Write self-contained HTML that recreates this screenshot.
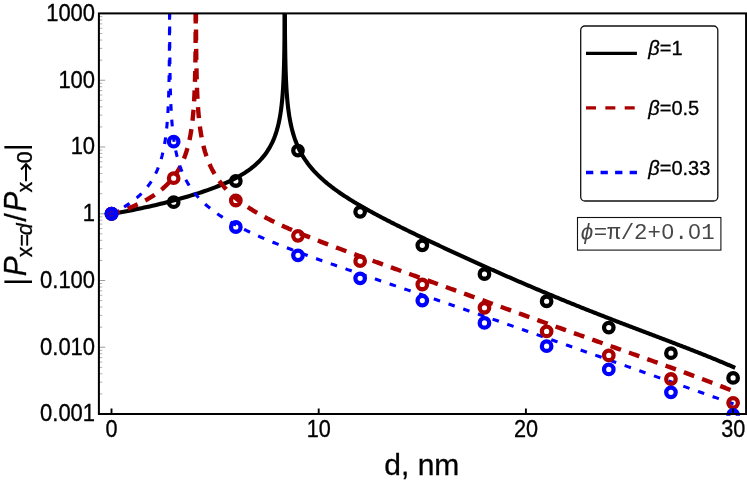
<!DOCTYPE html>
<html><head><meta charset="utf-8"><title>plot</title>
<style>html,body{margin:0;padding:0;background:#fff}svg{display:block;will-change:transform}text{font-family:"Liberation Sans",sans-serif;fill:#000;stroke:#000;stroke-width:0.3px}.m{font-family:"Liberation Mono",monospace}</style></head><body>
<svg width="747" height="482" viewBox="0 0 747 482">
<rect width="747" height="482" fill="#fff"/>
<defs><clipPath id="c"><rect x="98.9" y="13.4" width="647.2" height="402.30"/></clipPath></defs>
<path d="M98.9 414.00h6.3M98.9 347.25h6.3M98.9 280.50h6.3M98.9 213.75h6.3M98.9 147.00h6.3M98.9 80.25h6.3M98.9 13.50h6.3" stroke="#8c8c8c" stroke-width="0.85" fill="none"/>
<path d="M98.9 393.91h3.4M98.9 382.15h3.4M98.9 373.81h3.4M98.9 367.34h3.4M98.9 362.06h3.4M98.9 357.59h3.4M98.9 353.72h3.4M98.9 350.30h3.4M98.9 327.16h3.4M98.9 315.40h3.4M98.9 307.06h3.4M98.9 300.59h3.4M98.9 295.31h3.4M98.9 290.84h3.4M98.9 286.97h3.4M98.9 283.55h3.4M98.9 260.41h3.4M98.9 248.65h3.4M98.9 240.31h3.4M98.9 233.84h3.4M98.9 228.56h3.4M98.9 224.09h3.4M98.9 220.22h3.4M98.9 216.80h3.4M98.9 193.66h3.4M98.9 181.90h3.4M98.9 173.56h3.4M98.9 167.09h3.4M98.9 161.81h3.4M98.9 157.34h3.4M98.9 153.47h3.4M98.9 150.05h3.4M98.9 126.91h3.4M98.9 115.15h3.4M98.9 106.81h3.4M98.9 100.34h3.4M98.9 95.06h3.4M98.9 90.59h3.4M98.9 86.72h3.4M98.9 83.30h3.4M98.9 60.16h3.4M98.9 48.40h3.4M98.9 40.06h3.4M98.9 33.59h3.4M98.9 28.31h3.4M98.9 23.84h3.4M98.9 19.97h3.4M98.9 16.55h3.4" stroke="#9c9c9c" stroke-width="0.8" fill="none"/>
<g clip-path="url(#c)" fill="none" stroke-linejoin="round">
<path d="M111.50,213.75 L114.23,213.32 L116.95,212.88 L119.68,212.42 L122.40,211.94 L125.13,211.45 L127.85,210.94 L130.58,210.42 L133.31,209.89 L136.03,209.34 L138.76,208.78 L141.48,208.21 L144.21,207.62 L146.94,207.02 L149.66,206.41 L152.39,205.78 L155.11,205.15 L157.84,204.50 L160.56,203.83 L163.29,203.16 L166.02,202.47 L168.74,201.77 L171.47,201.06 L174.19,200.33 L176.92,199.59 L179.65,198.84 L182.37,198.07 L185.10,197.28 L187.82,196.48 L190.55,195.66 L193.27,194.82 L196.00,193.97 L198.73,193.09 L201.45,192.20 L204.18,191.28 L206.90,190.33 L209.63,189.36 L212.36,188.36 L215.08,187.33 L217.81,186.26 L220.53,185.15 L223.26,184.01 L225.98,182.82 L228.71,181.57 L231.44,180.27 L234.16,178.91 L236.89,177.47 L239.61,175.96 L242.34,174.35 L245.07,172.64 L247.79,170.81 L250.52,168.84 L253.24,166.70 L255.97,164.36 L258.69,161.79 L261.42,158.92 L264.15,155.68 L266.87,151.96 L269.60,147.60 L272.32,142.35 L272.32,142.35 L273.20,140.40 L274.01,138.45 L274.77,136.49 L275.48,134.53 L276.13,132.57 L276.74,130.60 L277.30,128.63 L277.83,126.66 L278.32,124.68 L278.77,122.70 L279.19,120.71 L279.59,118.73 L279.95,116.74 L280.29,114.75 L280.60,112.76 L280.90,110.76 L281.17,108.76 L281.42,106.76 L281.66,104.76 L281.87,102.76 L282.08,100.76 L282.27,98.75 L282.44,96.74 L282.61,94.74 L282.76,92.73 L282.90,90.72 L283.03,88.71 L283.15,86.69 L283.26,84.68 L283.37,82.67 L283.47,80.65 L283.56,78.64 L283.64,76.62 L283.72,74.61 L283.79,72.59 L283.86,70.57 L283.92,68.55 L283.98,66.54 L284.04,64.52 L284.09,62.50 L284.14,60.48 L284.18,58.46 L284.22,56.44 L284.26,54.42 L284.29,52.40 L284.33,50.38 L284.36,48.35 L284.38,46.33 L284.41,44.31 L284.43,42.29 L284.46,40.27 L284.48,38.24 L284.50,36.22 L284.52,34.20 L284.53,32.18 L284.55,30.15 L284.56,28.13 L284.58,26.11 L284.59,24.08 L284.60,22.06 L284.61,20.04 L284.62,18.01 L284.63,15.99 L284.64,13.97 L284.65,11.94 L284.66,9.92 L284.66,7.90 L284.67,5.87 L284.68,3.85 L284.68,1.82 L284.69,-0.20 L284.69,-2.22 L284.70,-4.25 L284.70,-6.27 L284.70,-8.30 L284.71,-10.32 L284.71,-12.34 L284.71,-14.37 L284.72,-16.39 L284.72,-18.42 L284.72,-20.44 L284.72,-22.47 L284.73,-24.49 L284.73,-26.51 L284.73,-28.54 L284.73,-30.56 L284.73,-32.59" stroke="#000" stroke-width="4.1"/>
<path d="M284.78,-32.58 L284.78,-30.56 L284.78,-28.53 L284.78,-26.51 L284.78,-24.48 L284.79,-22.46 L284.79,-20.43 L284.79,-18.41 L284.79,-16.38 L284.80,-14.36 L284.80,-12.34 L284.80,-10.31 L284.81,-8.29 L284.81,-6.26 L284.82,-4.24 L284.82,-2.21 L284.83,-0.19 L284.83,1.84 L284.84,3.87 L284.84,5.89 L284.85,7.92 L284.86,9.94 L284.86,11.97 L284.87,13.99 L284.88,16.02 L284.89,18.04 L284.90,20.07 L284.91,22.09 L284.92,24.12 L284.93,26.15 L284.95,28.17 L284.96,30.20 L284.98,32.22 L285.00,34.25 L285.01,36.28 L285.03,38.30 L285.05,40.33 L285.08,42.36 L285.10,44.38 L285.13,46.41 L285.16,48.44 L285.19,50.47 L285.22,52.50 L285.25,54.52 L285.29,56.55 L285.33,58.58 L285.38,60.61 L285.42,62.64 L285.47,64.67 L285.53,66.70 L285.59,68.73 L285.65,70.76 L285.72,72.79 L285.79,74.83 L285.87,76.86 L285.95,78.89 L286.05,80.93 L286.14,82.96 L286.25,85.00 L286.36,87.04 L286.48,89.07 L286.61,91.11 L286.75,93.15 L286.91,95.19 L287.07,97.24 L287.25,99.28 L287.43,101.32 L287.64,103.37 L287.86,105.42 L288.09,107.47 L288.34,109.52 L288.62,111.58 L288.91,113.64 L289.22,115.70 L289.56,117.76 L289.93,119.82 L290.32,121.89 L290.74,123.97 L291.19,126.04 L291.68,128.12 L292.21,130.21 L292.77,132.30 L293.38,134.40 L294.04,136.50 L294.74,138.61 L295.50,140.73 L296.31,142.85 L297.19,144.98 L297.19,144.98 L298.29,147.46 L299.38,149.76 L300.48,151.91 L301.58,153.92 L302.68,155.82 L303.77,157.61 L304.87,159.31 L305.97,160.93 L307.07,162.48 L308.16,163.97 L309.26,165.39 L310.36,166.76 L311.46,168.08 L312.56,169.36 L313.65,170.60 L314.75,171.79 L315.85,172.95 L316.95,174.08 L318.04,175.18 L319.14,176.25 L320.24,177.29 L321.34,178.31 L322.44,179.31 L323.53,180.28 L324.63,181.24 L325.73,182.17 L326.83,183.09 L327.92,183.98 L329.02,184.87 L330.12,185.73 L331.22,186.59 L332.31,187.43 L333.41,188.25 L334.51,189.06 L335.61,189.87 L336.71,190.66 L337.80,191.44 L338.90,192.21 L340.00,192.97 L341.10,193.72 L342.19,194.46 L343.29,195.19 L344.39,195.92 L345.49,196.63 L346.58,197.34 L347.68,198.05 L348.78,198.74 L349.88,199.43 L350.98,200.12 L352.07,200.79 L353.17,201.46 L354.27,202.13 L355.37,202.79 L356.46,203.44 L357.56,204.10 L358.66,204.74 L359.76,205.38 L360.85,206.02 L361.95,206.65 L363.05,207.28 L364.15,207.90 L365.25,208.52 L366.34,209.14 L367.44,209.75 L368.54,210.36 L369.64,210.97 L370.73,211.57 L371.83,212.17 L372.93,212.77 L374.03,213.37 L375.12,213.96 L376.22,214.55 L377.32,215.13 L378.42,215.72 L379.52,216.30 L380.61,216.88 L381.71,217.45 L382.81,218.03 L383.91,218.60 L385.00,219.17 L386.10,219.74 L387.20,220.31 L388.30,220.87 L389.40,221.43 L390.49,221.99 L391.59,222.55 L392.69,223.11 L393.79,223.67 L394.88,224.22 L395.98,224.77 L397.08,225.32 L398.18,225.87 L399.27,226.42 L400.37,226.97 L401.47,227.51 L402.57,228.06 L403.67,228.60 L404.76,229.14 L405.86,229.68 L406.96,230.22 L408.06,230.76 L409.15,231.30 L410.25,231.84 L411.35,232.37 L412.45,232.90 L413.54,233.44 L414.64,233.97 L415.74,234.50 L416.84,235.03 L417.94,235.56 L419.03,236.09 L420.13,236.62 L421.23,237.14 L422.33,237.67 L423.42,238.19 L424.52,238.72 L425.62,239.24 L426.72,239.76 L427.81,240.28 L428.91,240.81 L430.01,241.33 L431.11,241.85 L432.21,242.36 L433.30,242.88 L434.40,243.40 L435.50,243.92 L436.60,244.43 L437.69,244.95 L438.79,245.46 L439.89,245.98 L440.99,246.49 L442.08,247.00 L443.18,247.52 L444.28,248.03 L445.38,248.54 L446.48,249.05 L447.57,249.56 L448.67,250.07 L449.77,250.58 L450.87,251.08 L451.96,251.59 L453.06,252.10 L454.16,252.61 L455.26,253.11 L456.36,253.62 L457.45,254.12 L458.55,254.63 L459.65,255.13 L460.75,255.63 L461.84,256.13 L462.94,256.64 L464.04,257.14 L465.14,257.64 L466.23,258.14 L467.33,258.64 L468.43,259.14 L469.53,259.64 L470.63,260.14 L471.72,260.63 L472.82,261.13 L473.92,261.63 L475.02,262.12 L476.11,262.62 L477.21,263.11 L478.31,263.61 L479.41,264.10 L480.50,264.60 L481.60,265.09 L482.70,265.58 L483.80,266.07 L484.90,266.56 L485.99,267.06 L487.09,267.55 L488.19,268.04 L489.29,268.52 L490.38,269.01 L491.48,269.50 L492.58,269.99 L493.68,270.48 L494.77,270.96 L495.87,271.45 L496.97,271.93 L498.07,272.42 L499.17,272.90 L500.26,273.39 L501.36,273.87 L502.46,274.35 L503.56,274.84 L504.65,275.32 L505.75,275.80 L506.85,276.28 L507.95,276.76 L509.04,277.24 L510.14,277.72 L511.24,278.19 L512.34,278.67 L513.44,279.15 L514.53,279.63 L515.63,280.10 L516.73,280.58 L517.83,281.05 L518.92,281.53 L520.02,282.00 L521.12,282.47 L522.22,282.94 L523.32,283.42 L524.41,283.89 L525.51,284.36 L526.61,284.83 L527.71,285.30 L528.80,285.76 L529.90,286.23 L531.00,286.70 L532.10,287.17 L533.19,287.63 L534.29,288.10 L535.39,288.56 L536.49,289.03 L537.59,289.49 L538.68,289.96 L539.78,290.42 L540.88,290.88 L541.98,291.34 L543.07,291.80 L544.17,292.26 L545.27,292.72 L546.37,293.18 L547.46,293.64 L548.56,294.10 L549.66,294.55 L550.76,295.01 L551.86,295.47 L552.95,295.92 L554.05,296.38 L555.15,296.83 L556.25,297.28 L557.34,297.73 L558.44,298.19 L559.54,298.64 L560.64,299.09 L561.73,299.54 L562.83,299.99 L563.93,300.44 L565.03,300.89 L566.13,301.33 L567.22,301.78 L568.32,302.23 L569.42,302.67 L570.52,303.12 L571.61,303.56 L572.71,304.01 L573.81,304.45 L574.91,304.89 L576.00,305.33 L577.10,305.78 L578.20,306.22 L579.30,306.66 L580.40,307.10 L581.49,307.54 L582.59,307.97 L583.69,308.41 L584.79,308.85 L585.88,309.29 L586.98,309.72 L588.08,310.16 L589.18,310.59 L590.28,311.03 L591.37,311.46 L592.47,311.90 L593.57,312.33 L594.67,312.76 L595.76,313.19 L596.86,313.62 L597.96,314.06 L599.06,314.49 L600.15,314.92 L601.25,315.34 L602.35,315.77 L603.45,316.20 L604.55,316.63 L605.64,317.06 L606.74,317.48 L607.84,317.91 L608.94,318.34 L610.03,318.76 L611.13,319.19 L612.23,319.61 L613.33,320.04 L614.42,320.46 L615.52,320.88 L616.62,321.31 L617.72,321.73 L618.82,322.15 L619.91,322.57 L621.01,322.99 L622.11,323.41 L623.21,323.83 L624.30,324.25 L625.40,324.67 L626.50,325.09 L627.60,325.51 L628.69,325.93 L629.79,326.35 L630.89,326.77 L631.99,327.19 L633.09,327.61 L634.18,328.02 L635.28,328.44 L636.38,328.86 L637.48,329.28 L638.57,329.69 L639.67,330.11 L640.77,330.53 L641.87,330.94 L642.96,331.36 L644.06,331.78 L645.16,332.19 L646.26,332.61 L647.36,333.02 L648.45,333.44 L649.55,333.86 L650.65,334.27 L651.75,334.69 L652.84,335.10 L653.94,335.52 L655.04,335.94 L656.14,336.35 L657.23,336.77 L658.33,337.18 L659.43,337.60 L660.53,338.02 L661.63,338.43 L662.72,338.85 L663.82,339.27 L664.92,339.68 L666.02,340.10 L667.11,340.52 L668.21,340.94 L669.31,341.35 L670.41,341.77 L671.51,342.19 L672.60,342.61 L673.70,343.03 L674.80,343.45 L675.90,343.87 L676.99,344.29 L678.09,344.71 L679.19,345.13 L680.29,345.55 L681.38,345.98 L682.48,346.40 L683.58,346.82 L684.68,347.25 L685.78,347.67 L686.87,348.10 L687.97,348.52 L689.07,348.95 L690.17,349.38 L691.26,349.81 L692.36,350.23 L693.46,350.66 L694.56,351.09 L695.65,351.53 L696.75,351.96 L697.85,352.39 L698.95,352.83 L700.05,353.26 L701.14,353.70 L702.24,354.13 L703.34,354.57 L704.44,355.01 L705.53,355.45 L706.63,355.89 L707.73,356.34 L708.83,356.78 L709.92,357.23 L711.02,357.67 L712.12,358.12 L713.22,358.57 L714.32,359.02 L715.41,359.47 L716.51,359.92 L717.61,360.38 L718.71,360.83 L719.80,361.29 L720.90,361.75 L722.00,362.21 L723.10,362.67 L724.19,363.14 L725.29,363.60 L726.39,364.07 L727.49,364.54 L728.59,365.01 L729.68,365.49 L730.78,365.96 L731.88,366.44 L732.98,366.92 L734.07,367.40 L735.17,367.88" stroke="#000" stroke-width="4.1"/>
<path d="M111.50,213.75 L112.72,213.41 L113.94,213.06 L115.16,212.70 L116.38,212.33 L117.60,211.96 L118.82,211.57 L120.03,211.18 L121.25,210.78 L122.47,210.37 L123.69,209.94 L124.91,209.51 L126.13,209.07 L127.35,208.62 L128.57,208.15 L129.79,207.68 L131.01,207.19 L132.23,206.69 L133.45,206.18 L134.66,205.66 L135.88,205.12 L137.10,204.57 L138.32,204.01 L139.54,203.43 L140.76,202.84 L141.98,202.23 L143.20,201.60 L144.42,200.96 L145.64,200.30 L146.86,199.62 L148.08,198.92 L149.30,198.20 L150.51,197.46 L151.73,196.70 L152.95,195.92 L154.17,195.10 L155.39,194.27 L156.61,193.40 L157.83,192.51 L159.05,191.58 L160.27,190.62 L161.49,189.62 L162.71,188.59 L163.93,187.51 L165.14,186.39 L166.36,185.22 L167.58,184.00 L168.80,182.73 L170.02,181.39 L171.24,179.98 L172.46,178.50 L173.68,176.94 L174.90,175.28 L176.12,173.53 L177.34,171.65 L178.56,169.65 L179.77,167.49 L180.99,165.16 L182.21,162.63 L183.43,159.85 L183.43,159.85 L184.31,157.68 L185.12,155.50 L185.88,153.33 L186.58,151.14 L187.24,148.96 L187.85,146.77 L188.41,144.59 L188.94,142.40 L189.43,140.21 L189.88,138.01 L190.30,135.82 L190.69,133.62 L191.06,131.42 L191.40,129.22 L191.71,127.02 L192.00,124.82 L192.28,122.62 L192.53,120.42 L192.76,118.21 L192.98,116.01 L193.19,113.80 L193.38,111.60 L193.55,109.39 L193.71,107.18 L193.87,104.97 L194.01,102.77 L194.14,100.56 L194.26,98.35 L194.37,96.14 L194.48,93.93 L194.58,91.71 L194.67,89.50 L194.75,87.29 L194.83,85.08 L194.90,82.87 L194.97,80.66 L195.03,78.44 L195.09,76.23 L195.15,74.02 L195.20,71.80 L195.24,69.59 L195.29,67.38 L195.33,65.16 L195.37,62.95 L195.40,60.73 L195.43,58.52 L195.46,56.31 L195.49,54.09 L195.52,51.88 L195.54,49.66 L195.57,47.45 L195.59,45.23 L195.61,43.02 L195.62,40.80 L195.64,38.59 L195.66,36.37 L195.67,34.16 L195.69,31.94 L195.70,29.73 L195.71,27.51 L195.72,25.30 L195.73,23.08 L195.74,20.87 L195.75,18.65 L195.76,16.44 L195.76,14.22 L195.77,12.00 L195.78,9.79 L195.78,7.57 L195.79,5.36 L195.80,3.14 L195.80,0.93 L195.80,-1.29 L195.81,-3.50 L195.81,-5.72 L195.82,-7.94 L195.82,-10.15 L195.82,-12.37 L195.83,-14.58 L195.83,-16.80 L195.83,-19.01 L195.83,-21.23 L195.84,-23.45 L195.84,-25.66 L195.84,-27.88 L195.84,-30.09 L195.84,-32.31" stroke="#aa0000" stroke-width="4.4" stroke-dasharray="11 8.45" stroke-dashoffset="2.6"/>
<path d="M195.89,-32.31 L195.89,-30.09 L195.89,-27.88 L195.89,-25.66 L195.89,-23.44 L195.90,-21.23 L195.90,-19.01 L195.90,-16.80 L195.90,-14.58 L195.91,-12.36 L195.91,-10.15 L195.91,-7.93 L195.92,-5.72 L195.92,-3.50 L195.92,-1.28 L195.93,0.93 L195.93,3.15 L195.94,5.37 L195.94,7.58 L195.95,9.80 L195.96,12.01 L195.96,14.23 L195.97,16.45 L195.98,18.66 L195.99,20.88 L196.00,23.10 L196.01,25.31 L196.02,27.53 L196.03,29.74 L196.04,31.96 L196.06,34.18 L196.07,36.39 L196.09,38.61 L196.10,40.83 L196.12,43.04 L196.14,45.26 L196.16,47.48 L196.19,49.70 L196.21,51.91 L196.24,54.13 L196.26,56.35 L196.30,58.56 L196.33,60.78 L196.36,63.00 L196.40,65.22 L196.44,67.44 L196.49,69.65 L196.53,71.87 L196.58,74.09 L196.64,76.31 L196.70,78.53 L196.76,80.75 L196.83,82.97 L196.90,85.19 L196.98,87.41 L197.06,89.63 L197.15,91.85 L197.25,94.07 L197.36,96.29 L197.47,98.51 L197.59,100.73 L197.72,102.96 L197.86,105.18 L198.02,107.40 L198.18,109.63 L198.35,111.85 L198.54,114.08 L198.75,116.30 L198.96,118.53 L199.20,120.76 L199.45,122.99 L199.72,125.22 L200.02,127.45 L200.33,129.68 L200.67,131.92 L201.04,134.15 L201.43,136.39 L201.85,138.63 L202.30,140.87 L202.79,143.11 L203.32,145.35 L203.88,147.60 L204.49,149.85 L205.14,152.10 L205.85,154.35 L206.61,156.61 L207.42,158.87 L208.30,161.14 L208.30,161.14 L209.62,164.27 L210.94,167.12 L212.26,169.74 L213.58,172.17 L214.90,174.42 L216.22,176.53 L217.54,178.52 L218.86,180.39 L220.18,182.16 L221.50,183.85 L222.82,185.45 L224.14,186.99 L225.46,188.45 L226.78,189.86 L228.10,191.22 L229.42,192.52 L230.74,193.78 L232.07,194.99 L233.39,196.17 L234.71,197.31 L236.03,198.42 L237.35,199.49 L238.67,200.54 L239.99,201.55 L241.31,202.55 L242.63,203.51 L243.95,204.46 L245.27,205.38 L246.59,206.28 L247.91,207.16 L249.23,208.03 L250.55,208.88 L251.87,209.71 L253.19,210.52 L254.51,211.32 L255.83,212.11 L257.15,212.88 L258.48,213.64 L259.80,214.39 L261.12,215.13 L262.44,215.85 L263.76,216.57 L265.08,217.27 L266.40,217.97 L267.72,218.66 L269.04,219.33 L270.36,220.00 L271.68,220.66 L273.00,221.32 L274.32,221.96 L275.64,222.60 L276.96,223.24 L278.28,223.86 L279.60,224.48 L280.92,225.09 L282.24,225.70 L283.56,226.30 L284.88,226.90 L286.21,227.49 L287.53,228.08 L288.85,228.66 L290.17,229.24 L291.49,229.81 L292.81,230.38 L294.13,230.94 L295.45,231.50 L296.77,232.06 L298.09,232.61 L299.41,233.16 L300.73,233.71 L302.05,234.25 L303.37,234.79 L304.69,235.33 L306.01,235.86 L307.33,236.40 L308.65,236.92 L309.97,237.45 L311.29,237.97 L312.62,238.50 L313.94,239.02 L315.26,239.53 L316.58,240.05 L317.90,240.56 L319.22,241.07 L320.54,241.58 L321.86,242.09 L323.18,242.59 L324.50,243.10 L325.82,243.60 L327.14,244.10 L328.46,244.60 L329.78,245.10 L331.10,245.59 L332.42,246.09 L333.74,246.58 L335.06,247.07 L336.38,247.57 L337.70,248.06 L339.02,248.55 L340.35,249.03 L341.67,249.52 L342.99,250.01 L344.31,250.49 L345.63,250.98 L346.95,251.46 L348.27,251.95 L349.59,252.43 L350.91,252.91 L352.23,253.39 L353.55,253.87 L354.87,254.35 L356.19,254.83 L357.51,255.31 L358.83,255.79 L360.15,256.27 L361.47,256.74 L362.79,257.22 L364.11,257.70 L365.43,258.17 L366.76,258.65 L368.08,259.12 L369.40,259.60 L370.72,260.07 L372.04,260.55 L373.36,261.02 L374.68,261.50 L376.00,261.97 L377.32,262.44 L378.64,262.92 L379.96,263.39 L381.28,263.86 L382.60,264.34 L383.92,264.81 L385.24,265.28 L386.56,265.76 L387.88,266.23 L389.20,266.70 L390.52,267.17 L391.84,267.65 L393.17,268.12 L394.49,268.59 L395.81,269.06 L397.13,269.53 L398.45,270.01 L399.77,270.48 L401.09,270.95 L402.41,271.42 L403.73,271.90 L405.05,272.37 L406.37,272.84 L407.69,273.31 L409.01,273.79 L410.33,274.26 L411.65,274.73 L412.97,275.20 L414.29,275.68 L415.61,276.15 L416.93,276.62 L418.25,277.09 L419.57,277.57 L420.90,278.04 L422.22,278.51 L423.54,278.99 L424.86,279.46 L426.18,279.93 L427.50,280.41 L428.82,280.88 L430.14,281.35 L431.46,281.83 L432.78,282.30 L434.10,282.78 L435.42,283.25 L436.74,283.72 L438.06,284.20 L439.38,284.67 L440.70,285.15 L442.02,285.62 L443.34,286.10 L444.66,286.57 L445.98,287.05 L447.31,287.52 L448.63,288.00 L449.95,288.47 L451.27,288.95 L452.59,289.42 L453.91,289.90 L455.23,290.37 L456.55,290.85 L457.87,291.33 L459.19,291.80 L460.51,292.28 L461.83,292.75 L463.15,293.23 L464.47,293.71 L465.79,294.18 L467.11,294.66 L468.43,295.13 L469.75,295.61 L471.07,296.09 L472.39,296.56 L473.71,297.04 L475.04,297.52 L476.36,297.99 L477.68,298.47 L479.00,298.95 L480.32,299.42 L481.64,299.90 L482.96,300.38 L484.28,300.85 L485.60,301.33 L486.92,301.81 L488.24,302.28 L489.56,302.76 L490.88,303.24 L492.20,303.71 L493.52,304.19 L494.84,304.67 L496.16,305.14 L497.48,305.62 L498.80,306.10 L500.12,306.57 L501.45,307.05 L502.77,307.53 L504.09,308.00 L505.41,308.48 L506.73,308.96 L508.05,309.43 L509.37,309.91 L510.69,310.39 L512.01,310.86 L513.33,311.34 L514.65,311.81 L515.97,312.29 L517.29,312.77 L518.61,313.24 L519.93,313.72 L521.25,314.19 L522.57,314.67 L523.89,315.14 L525.21,315.62 L526.53,316.10 L527.86,316.57 L529.18,317.05 L530.50,317.52 L531.82,318.00 L533.14,318.47 L534.46,318.94 L535.78,319.42 L537.10,319.89 L538.42,320.37 L539.74,320.84 L541.06,321.32 L542.38,321.79 L543.70,322.26 L545.02,322.74 L546.34,323.21 L547.66,323.68 L548.98,324.16 L550.30,324.63 L551.62,325.10 L552.94,325.58 L554.26,326.05 L555.59,326.52 L556.91,326.99 L558.23,327.47 L559.55,327.94 L560.87,328.41 L562.19,328.88 L563.51,329.35 L564.83,329.83 L566.15,330.30 L567.47,330.77 L568.79,331.24 L570.11,331.71 L571.43,332.18 L572.75,332.65 L574.07,333.12 L575.39,333.59 L576.71,334.06 L578.03,334.53 L579.35,335.00 L580.67,335.47 L582.00,335.94 L583.32,336.41 L584.64,336.88 L585.96,337.35 L587.28,337.82 L588.60,338.29 L589.92,338.76 L591.24,339.23 L592.56,339.70 L593.88,340.17 L595.20,340.63 L596.52,341.10 L597.84,341.57 L599.16,342.04 L600.48,342.51 L601.80,342.97 L603.12,343.44 L604.44,343.91 L605.76,344.38 L607.08,344.85 L608.40,345.31 L609.73,345.78 L611.05,346.25 L612.37,346.72 L613.69,347.18 L615.01,347.65 L616.33,348.12 L617.65,348.59 L618.97,349.05 L620.29,349.52 L621.61,349.99 L622.93,350.46 L624.25,350.93 L625.57,351.39 L626.89,351.86 L628.21,352.33 L629.53,352.80 L630.85,353.26 L632.17,353.73 L633.49,354.20 L634.81,354.67 L636.14,355.14 L637.46,355.61 L638.78,356.07 L640.10,356.54 L641.42,357.01 L642.74,357.48 L644.06,357.95 L645.38,358.42 L646.70,358.89 L648.02,359.36 L649.34,359.83 L650.66,360.30 L651.98,360.77 L653.30,361.24 L654.62,361.72 L655.94,362.19 L657.26,362.66 L658.58,363.13 L659.90,363.60 L661.22,364.08 L662.55,364.55 L663.87,365.03 L665.19,365.50 L666.51,365.98 L667.83,366.45 L669.15,366.93 L670.47,367.40 L671.79,367.88 L673.11,368.36 L674.43,368.84 L675.75,369.31 L677.07,369.79 L678.39,370.27 L679.71,370.75 L681.03,371.24 L682.35,371.72 L683.67,372.20 L684.99,372.68 L686.31,373.17 L687.63,373.65 L688.95,374.14 L690.28,374.63 L691.60,375.11 L692.92,375.60 L694.24,376.09 L695.56,376.58 L696.88,377.07 L698.20,377.56 L699.52,378.06 L700.84,378.55 L702.16,379.05 L703.48,379.54 L704.80,380.04 L706.12,380.54 L707.44,381.04 L708.76,381.54 L710.08,382.04 L711.40,382.55 L712.72,383.05 L714.04,383.56 L715.36,384.06 L716.69,384.57 L718.01,385.08 L719.33,385.59 L720.65,386.11 L721.97,386.62 L723.29,387.14 L724.61,387.66 L725.93,388.18 L727.25,388.70 L728.57,389.22 L729.89,389.74 L731.21,390.27 L732.53,390.80 L733.85,391.33 L735.17,391.86" stroke="#aa0000" stroke-width="4.4" stroke-dasharray="11 8.45" stroke-dashoffset="-3.4"/>
<path d="M111.50,213.75 L112.27,213.38 L113.05,213.00 L113.82,212.62 L114.60,212.24 L115.37,211.85 L116.14,211.45 L116.92,211.04 L117.69,210.63 L118.47,210.22 L119.24,209.80 L120.01,209.37 L120.79,208.93 L121.56,208.49 L122.33,208.04 L123.11,207.58 L123.88,207.11 L124.66,206.64 L125.43,206.15 L126.20,205.66 L126.98,205.16 L127.75,204.65 L128.53,204.13 L129.30,203.60 L130.07,203.06 L130.85,202.51 L131.62,201.95 L132.40,201.37 L133.17,200.78 L133.94,200.18 L134.72,199.57 L135.49,198.94 L136.26,198.30 L137.04,197.64 L137.81,196.96 L138.59,196.27 L139.36,195.56 L140.13,194.83 L140.91,194.08 L141.68,193.31 L142.46,192.52 L143.23,191.70 L144.00,190.86 L144.78,190.00 L145.55,189.10 L146.33,188.17 L147.10,187.22 L147.87,186.22 L148.65,185.19 L149.42,184.13 L150.19,183.01 L150.97,181.86 L151.74,180.65 L152.52,179.38 L153.29,178.06 L154.06,176.67 L154.84,175.21 L155.61,173.66 L156.39,172.03 L157.16,170.30 L157.16,170.30 L158.04,168.20 L158.85,166.10 L159.61,163.99 L160.31,161.88 L160.97,159.77 L161.57,157.66 L162.14,155.55 L162.66,153.43 L163.15,151.31 L163.61,149.19 L164.03,147.07 L164.42,144.95 L164.79,142.83 L165.12,140.70 L165.44,138.57 L165.73,136.45 L166.00,134.32 L166.26,132.19 L166.49,130.06 L166.71,127.93 L166.91,125.79 L167.10,123.66 L167.28,121.53 L167.44,119.39 L167.59,117.26 L167.73,115.12 L167.86,112.99 L167.99,110.85 L168.10,108.71 L168.20,106.58 L168.30,104.44 L168.39,102.30 L168.48,100.16 L168.56,98.02 L168.63,95.88 L168.70,93.74 L168.76,91.61 L168.82,89.47 L168.87,87.33 L168.92,85.18 L168.97,83.04 L169.01,80.90 L169.06,78.76 L169.09,76.62 L169.13,74.48 L169.16,72.34 L169.19,70.20 L169.22,68.06 L169.25,65.91 L169.27,63.77 L169.29,61.63 L169.31,59.49 L169.33,57.35 L169.35,55.20 L169.37,53.06 L169.38,50.92 L169.40,48.78 L169.41,46.63 L169.43,44.49 L169.44,42.35 L169.45,40.21 L169.46,38.06 L169.47,35.92 L169.48,33.78 L169.48,31.64 L169.49,29.49 L169.50,27.35 L169.51,25.21 L169.51,23.07 L169.52,20.92 L169.52,18.78 L169.53,16.64 L169.53,14.49 L169.54,12.35 L169.54,10.21 L169.54,8.07 L169.55,5.92 L169.55,3.78 L169.55,1.64 L169.56,-0.51 L169.56,-2.65 L169.56,-4.79 L169.56,-6.94 L169.56,-9.08 L169.57,-11.22 L169.57,-13.36 L169.57,-15.51 L169.57,-17.65 L169.57,-19.79 L169.57,-21.94 L169.58,-24.08 L169.58,-26.22 L169.58,-28.37 L169.58,-30.51" stroke="#0000ff" stroke-width="3.1" stroke-dasharray="6.6 8.95" stroke-dashoffset="1.3"/>
<path d="M169.60,-30.51 L169.61,-28.37 L169.61,-26.22 L169.61,-24.08 L169.61,-21.94 L169.61,-19.79 L169.61,-17.65 L169.61,-15.51 L169.61,-13.36 L169.62,-11.22 L169.62,-9.08 L169.62,-6.93 L169.62,-4.79 L169.62,-2.65 L169.63,-0.50 L169.63,1.64 L169.63,3.78 L169.64,5.93 L169.64,8.07 L169.64,10.21 L169.65,12.36 L169.65,14.50 L169.66,16.64 L169.66,18.79 L169.67,20.93 L169.67,23.07 L169.68,25.22 L169.68,27.36 L169.69,29.51 L169.70,31.65 L169.71,33.79 L169.72,35.94 L169.73,38.08 L169.74,40.22 L169.75,42.37 L169.76,44.51 L169.77,46.65 L169.78,48.80 L169.80,50.94 L169.81,53.09 L169.83,55.23 L169.85,57.37 L169.87,59.52 L169.89,61.66 L169.91,63.81 L169.94,65.95 L169.96,68.10 L169.99,70.24 L170.02,72.39 L170.05,74.53 L170.09,76.68 L170.13,78.82 L170.17,80.97 L170.21,83.11 L170.26,85.26 L170.31,87.40 L170.36,89.55 L170.42,91.70 L170.49,93.84 L170.55,95.99 L170.63,98.14 L170.71,100.29 L170.79,102.43 L170.88,104.58 L170.98,106.73 L171.08,108.88 L171.20,111.03 L171.32,113.18 L171.45,115.33 L171.59,117.48 L171.74,119.63 L171.91,121.79 L172.08,123.94 L172.27,126.09 L172.47,128.25 L172.69,130.40 L172.93,132.56 L173.18,134.72 L173.45,136.88 L173.74,139.04 L174.06,141.20 L174.40,143.36 L174.76,145.53 L175.15,147.69 L175.58,149.86 L176.03,152.03 L176.52,154.20 L177.04,156.38 L177.61,158.55 L178.22,160.73 L178.87,162.92 L179.58,165.10 L180.33,167.29 L181.15,169.49 L182.02,171.68 L182.02,171.68 L183.41,174.87 L184.80,177.76 L186.18,180.41 L187.57,182.86 L188.96,185.13 L190.34,187.25 L191.73,189.24 L193.11,191.11 L194.50,192.89 L195.89,194.58 L197.27,196.18 L198.66,197.72 L200.05,199.18 L201.43,200.59 L202.82,201.95 L204.20,203.25 L205.59,204.51 L206.98,205.73 L208.36,206.90 L209.75,208.04 L211.14,209.15 L212.52,210.23 L213.91,211.27 L215.30,212.29 L216.68,213.29 L218.07,214.26 L219.45,215.20 L220.84,216.13 L222.23,217.04 L223.61,217.92 L225.00,218.79 L226.39,219.64 L227.77,220.48 L229.16,221.30 L230.55,222.10 L231.93,222.89 L233.32,223.67 L234.70,224.44 L236.09,225.19 L237.48,225.93 L238.86,226.67 L240.25,227.39 L241.64,228.10 L243.02,228.80 L244.41,229.49 L245.80,230.18 L247.18,230.85 L248.57,231.52 L249.95,232.18 L251.34,232.84 L252.73,233.48 L254.11,234.12 L255.50,234.75 L256.89,235.38 L258.27,236.00 L259.66,236.61 L261.04,237.22 L262.43,237.83 L263.82,238.43 L265.20,239.02 L266.59,239.61 L267.98,240.19 L269.36,240.77 L270.75,241.35 L272.14,241.92 L273.52,242.49 L274.91,243.05 L276.29,243.61 L277.68,244.17 L279.07,244.72 L280.45,245.27 L281.84,245.82 L283.23,246.36 L284.61,246.90 L286.00,247.44 L287.39,247.97 L288.77,248.51 L290.16,249.04 L291.54,249.56 L292.93,250.09 L294.32,250.61 L295.70,251.13 L297.09,251.65 L298.48,252.17 L299.86,252.68 L301.25,253.19 L302.63,253.70 L304.02,254.21 L305.41,254.72 L306.79,255.22 L308.18,255.73 L309.57,256.23 L310.95,256.73 L312.34,257.23 L313.73,257.72 L315.11,258.22 L316.50,258.72 L317.88,259.21 L319.27,259.70 L320.66,260.19 L322.04,260.68 L323.43,261.17 L324.82,261.66 L326.20,262.15 L327.59,262.63 L328.98,263.12 L330.36,263.60 L331.75,264.09 L333.13,264.57 L334.52,265.05 L335.91,265.53 L337.29,266.02 L338.68,266.50 L340.07,266.97 L341.45,267.45 L342.84,267.93 L344.22,268.41 L345.61,268.89 L347.00,269.36 L348.38,269.84 L349.77,270.31 L351.16,270.79 L352.54,271.26 L353.93,271.74 L355.32,272.21 L356.70,272.69 L358.09,273.16 L359.47,273.63 L360.86,274.10 L362.25,274.58 L363.63,275.05 L365.02,275.52 L366.41,275.99 L367.79,276.46 L369.18,276.93 L370.57,277.41 L371.95,277.88 L373.34,278.35 L374.72,278.82 L376.11,279.29 L377.50,279.76 L378.88,280.23 L380.27,280.70 L381.66,281.17 L383.04,281.64 L384.43,282.11 L385.82,282.58 L387.20,283.05 L388.59,283.52 L389.97,283.99 L391.36,284.46 L392.75,284.93 L394.13,285.40 L395.52,285.87 L396.91,286.34 L398.29,286.81 L399.68,287.28 L401.06,287.75 L402.45,288.22 L403.84,288.69 L405.22,289.16 L406.61,289.63 L408.00,290.10 L409.38,290.57 L410.77,291.04 L412.16,291.51 L413.54,291.98 L414.93,292.45 L416.31,292.93 L417.70,293.40 L419.09,293.87 L420.47,294.34 L421.86,294.81 L423.25,295.28 L424.63,295.76 L426.02,296.23 L427.41,296.70 L428.79,297.17 L430.18,297.65 L431.56,298.12 L432.95,298.59 L434.34,299.06 L435.72,299.54 L437.11,300.01 L438.50,300.49 L439.88,300.96 L441.27,301.43 L442.65,301.91 L444.04,302.38 L445.43,302.86 L446.81,303.33 L448.20,303.81 L449.59,304.28 L450.97,304.76 L452.36,305.23 L453.75,305.71 L455.13,306.19 L456.52,306.66 L457.90,307.14 L459.29,307.62 L460.68,308.09 L462.06,308.57 L463.45,309.05 L464.84,309.52 L466.22,310.00 L467.61,310.48 L469.00,310.96 L470.38,311.44 L471.77,311.91 L473.15,312.39 L474.54,312.87 L475.93,313.35 L477.31,313.83 L478.70,314.31 L480.09,314.79 L481.47,315.27 L482.86,315.75 L484.24,316.23 L485.63,316.71 L487.02,317.19 L488.40,317.67 L489.79,318.15 L491.18,318.63 L492.56,319.12 L493.95,319.60 L495.34,320.08 L496.72,320.56 L498.11,321.04 L499.49,321.53 L500.88,322.01 L502.27,322.49 L503.65,322.97 L505.04,323.46 L506.43,323.94 L507.81,324.42 L509.20,324.91 L510.59,325.39 L511.97,325.87 L513.36,326.36 L514.74,326.84 L516.13,327.33 L517.52,327.81 L518.90,328.29 L520.29,328.78 L521.68,329.26 L523.06,329.75 L524.45,330.23 L525.84,330.72 L527.22,331.20 L528.61,331.69 L529.99,332.18 L531.38,332.66 L532.77,333.15 L534.15,333.63 L535.54,334.12 L536.93,334.61 L538.31,335.09 L539.70,335.58 L541.08,336.06 L542.47,336.55 L543.86,337.04 L545.24,337.52 L546.63,338.01 L548.02,338.50 L549.40,338.99 L550.79,339.47 L552.18,339.96 L553.56,340.45 L554.95,340.94 L556.33,341.42 L557.72,341.91 L559.11,342.40 L560.49,342.89 L561.88,343.37 L563.27,343.86 L564.65,344.35 L566.04,344.84 L567.43,345.33 L568.81,345.81 L570.20,346.30 L571.58,346.79 L572.97,347.28 L574.36,347.77 L575.74,348.26 L577.13,348.75 L578.52,349.23 L579.90,349.72 L581.29,350.21 L582.67,350.70 L584.06,351.19 L585.45,351.68 L586.83,352.17 L588.22,352.66 L589.61,353.14 L590.99,353.63 L592.38,354.12 L593.77,354.61 L595.15,355.10 L596.54,355.59 L597.92,356.08 L599.31,356.57 L600.70,357.06 L602.08,357.55 L603.47,358.03 L604.86,358.52 L606.24,359.01 L607.63,359.50 L609.02,359.99 L610.40,360.48 L611.79,360.97 L613.17,361.46 L614.56,361.95 L615.95,362.44 L617.33,362.93 L618.72,363.42 L620.11,363.90 L621.49,364.39 L622.88,364.88 L624.27,365.37 L625.65,365.86 L627.04,366.35 L628.42,366.84 L629.81,367.33 L631.20,367.82 L632.58,368.31 L633.97,368.80 L635.36,369.28 L636.74,369.77 L638.13,370.26 L639.51,370.75 L640.90,371.24 L642.29,371.73 L643.67,372.22 L645.06,372.71 L646.45,373.20 L647.83,373.69 L649.22,374.18 L650.61,374.66 L651.99,375.15 L653.38,375.64 L654.76,376.13 L656.15,376.62 L657.54,377.11 L658.92,377.60 L660.31,378.09 L661.70,378.58 L663.08,379.07 L664.47,379.55 L665.86,380.04 L667.24,380.53 L668.63,381.02 L670.01,381.51 L671.40,382.00 L672.79,382.49 L674.17,382.98 L675.56,383.47 L676.95,383.95 L678.33,384.44 L679.72,384.93 L681.10,385.42 L682.49,385.91 L683.88,386.40 L685.26,386.89 L686.65,387.38 L688.04,387.87 L689.42,388.36 L690.81,388.85 L692.20,389.33 L693.58,389.82 L694.97,390.31 L696.35,390.80 L697.74,391.29 L699.13,391.78 L700.51,392.27 L701.90,392.76 L703.29,393.25 L704.67,393.74 L706.06,394.23 L707.45,394.72 L708.83,395.21 L710.22,395.70 L711.60,396.19 L712.99,396.68 L714.38,397.17 L715.76,397.66 L717.15,398.15 L718.54,398.64 L719.92,399.13 L721.31,399.62 L722.69,400.11 L724.08,400.61 L725.47,401.10 L726.85,401.59 L728.24,402.08 L729.63,402.57 L731.01,403.06 L732.40,403.55 L733.79,404.05 L735.17,404.54" stroke="#0000ff" stroke-width="3.1" stroke-dasharray="6.6 8.95" stroke-dashoffset="5.25"/>
<circle cx="111.50" cy="213.75" r="4.75" stroke="#000000" stroke-width="4.3"/>
<circle cx="111.50" cy="213.75" r="4.75" stroke="#aa0000" stroke-width="4.3"/>
<circle cx="111.65" cy="213.85" r="7.05" fill="#0000ff"/>
<path d="M113.2 212.2A2.3 2.3 0 1 0 113.3 215.4" stroke="#aa0000" stroke-width="0.9" fill="none" stroke-opacity="0.75"/>
<circle cx="173.66" cy="202.20" r="4.75" stroke="#000000" stroke-width="4.3"/>
<circle cx="173.66" cy="178.15" r="4.75" stroke="#aa0000" stroke-width="4.3"/>
<circle cx="173.66" cy="141.70" r="4.75" stroke="#0000ff" stroke-width="4.3"/>
<circle cx="235.82" cy="181.00" r="4.75" stroke="#000000" stroke-width="4.3"/>
<circle cx="235.82" cy="200.50" r="4.75" stroke="#aa0000" stroke-width="4.3"/>
<circle cx="235.82" cy="227.00" r="4.75" stroke="#0000ff" stroke-width="4.3"/>
<circle cx="297.98" cy="150.60" r="4.75" stroke="#000000" stroke-width="4.3"/>
<circle cx="297.98" cy="235.80" r="4.75" stroke="#aa0000" stroke-width="4.3"/>
<circle cx="297.98" cy="255.30" r="4.75" stroke="#0000ff" stroke-width="4.3"/>
<circle cx="360.14" cy="211.80" r="4.75" stroke="#000000" stroke-width="4.3"/>
<circle cx="360.14" cy="261.10" r="4.75" stroke="#aa0000" stroke-width="4.3"/>
<circle cx="360.14" cy="278.30" r="4.75" stroke="#0000ff" stroke-width="4.3"/>
<circle cx="422.30" cy="245.30" r="4.75" stroke="#000000" stroke-width="4.3"/>
<circle cx="422.30" cy="284.50" r="4.75" stroke="#aa0000" stroke-width="4.3"/>
<circle cx="422.30" cy="300.60" r="4.75" stroke="#0000ff" stroke-width="4.3"/>
<circle cx="484.46" cy="274.00" r="4.75" stroke="#000000" stroke-width="4.3"/>
<circle cx="484.46" cy="307.75" r="4.75" stroke="#aa0000" stroke-width="4.3"/>
<circle cx="484.46" cy="322.90" r="4.75" stroke="#0000ff" stroke-width="4.3"/>
<circle cx="546.62" cy="301.25" r="4.75" stroke="#000000" stroke-width="4.3"/>
<circle cx="546.62" cy="331.40" r="4.75" stroke="#aa0000" stroke-width="4.3"/>
<circle cx="546.62" cy="346.20" r="4.75" stroke="#0000ff" stroke-width="4.3"/>
<circle cx="608.78" cy="327.60" r="4.75" stroke="#000000" stroke-width="4.3"/>
<circle cx="608.78" cy="355.40" r="4.75" stroke="#aa0000" stroke-width="4.3"/>
<circle cx="608.78" cy="369.40" r="4.75" stroke="#0000ff" stroke-width="4.3"/>
<circle cx="670.94" cy="353.15" r="4.75" stroke="#000000" stroke-width="4.3"/>
<circle cx="670.94" cy="379.00" r="4.75" stroke="#aa0000" stroke-width="4.3"/>
<circle cx="670.94" cy="392.30" r="4.75" stroke="#0000ff" stroke-width="4.3"/>
<circle cx="733.10" cy="377.90" r="4.75" stroke="#000000" stroke-width="4.3"/>
<circle cx="733.10" cy="402.80" r="4.75" stroke="#aa0000" stroke-width="4.3"/>
<circle cx="733.10" cy="415.00" r="4.75" stroke="#0000ff" stroke-width="4.3"/>
</g>
<rect x="98.9" y="13.4" width="647.2" height="400.6" fill="none" stroke="#000" stroke-width="2"/>
<path d="M111.50 414.0v-5.6M318.70 414.0v-5.6M525.90 414.0v-5.6M733.10 414.0v-5.6" stroke="#000" stroke-width="1.9" fill="none"/>
<text transform="translate(95.1,421.40) scale(1,1.055)" font-size="22" text-anchor="end">0.001</text>
<text transform="translate(95.1,354.65) scale(1,1.055)" font-size="22" text-anchor="end">0.010</text>
<text transform="translate(95.1,287.90) scale(1,1.055)" font-size="22" text-anchor="end">0.100</text>
<text transform="translate(95.1,221.15) scale(1,1.055)" font-size="22" text-anchor="end">1</text>
<text transform="translate(95.1,154.40) scale(1,1.055)" font-size="22" text-anchor="end">10</text>
<text transform="translate(95.1,87.65) scale(1,1.055)" font-size="22" text-anchor="end">100</text>
<text transform="translate(95.1,20.90) scale(1,1.055)" font-size="22" text-anchor="end">1000</text>
<text transform="translate(111.60,436.6) scale(0.985,1.06)" font-size="22" text-anchor="middle">0</text>
<text transform="translate(318.80,436.6) scale(0.985,1.06)" font-size="22" text-anchor="middle">10</text>
<text transform="translate(526.00,436.6) scale(0.985,1.06)" font-size="22" text-anchor="middle">20</text>
<text transform="translate(733.20,436.6) scale(0.985,1.06)" font-size="22" text-anchor="middle">30</text>
<text x="421.8" y="475.4" font-size="30" text-anchor="middle">d, nm</text>
<g transform="translate(25.7,281.8) rotate(-90)">
<path d="M0 -21.3V6.3M134.5 -21.3V6.3" stroke="#000" stroke-width="2.4" fill="none"/>
<text font-size="30" font-style="italic" transform="translate(5.6,0) scale(1,1.05)">P</text>
<text font-size="21.3" transform="translate(24.6,6.6) scale(1,1.07)">x</text>
<text font-size="21.3" transform="translate(35.4,6.6) scale(1,1.07)">=</text>
<text font-size="21.3" font-style="italic" transform="translate(46.5,6.6) scale(1,1.07)">d</text>
<text font-size="30" x="60.3" y="0">/</text>
<text font-size="30" font-style="italic" transform="translate(70.0,0) scale(1,1.05)">P</text>
<text font-size="21.3" transform="translate(89.4,6.6) scale(1,1.07)">x</text>
<path d="M100.6 0.3H117.6M112.3 -4.6L117.9 0.3L112.3 5.2" stroke="#000" stroke-width="2" fill="none"/>
<text font-size="21.3" transform="translate(118.6,6.6) scale(1,1.07)">0</text>
</g>
<rect x="580.7" y="26" width="137.1" height="175" rx="4.3" ry="4.3" fill="#fff" stroke="#111" stroke-width="1.3"/>
<path d="M586 53.4H636.9" stroke="#000" stroke-width="3.2" fill="none"/>
<path d="M586 107.8H637" stroke="#aa0000" stroke-width="3.3" stroke-dasharray="10 9.35" fill="none"/>
<path d="M586 172.5H637.3" stroke="#0000ff" stroke-width="3.5" stroke-dasharray="7.3 7.25" fill="none"/>
<text x="648.3" y="55.4" font-size="20"><tspan font-style="italic">β</tspan>=1</text>
<text x="648.3" y="114.8" font-size="20"><tspan font-style="italic">β</tspan>=0.5</text>
<text x="648.3" y="174.5" font-size="20"><tspan font-style="italic">β</tspan>=0.33</text>
<rect x="577.5" y="217.5" width="143.4" height="32.6" fill="#fff" stroke="#111" stroke-width="1.1"/>
<text class="m" x="580.30" y="238.9" font-size="22.4" font-style="italic" style="fill:#474747;stroke:none">ϕ</text>
<text class="m" x="593.74" y="238.9" font-size="22.4" style="fill:#474747;stroke:none">=</text>
<text class="m" x="607.18" y="238.9" font-size="22.4" style="fill:#474747;stroke:none">π</text>
<text class="m" x="620.63" y="238.9" font-size="22.4" style="fill:#474747;stroke:none">/</text>
<text class="m" x="634.07" y="238.9" font-size="22.4" style="fill:#474747;stroke:none">2</text>
<text class="m" x="647.51" y="238.9" font-size="22.4" style="fill:#474747;stroke:none">+</text>
<text x="661.45" y="238.9" font-size="22.4" style="fill:#474747;stroke:none" transform="translate(0,0)">0</text>
<text class="m" x="674.40" y="238.9" font-size="22.4" style="fill:#474747;stroke:none">.</text>
<text x="688.34" y="238.9" font-size="22.4" style="fill:#474747;stroke:none" transform="translate(0,0)">0</text>
<text class="m" x="701.28" y="238.9" font-size="22.4" style="fill:#474747;stroke:none">1</text>
</svg></body></html>
